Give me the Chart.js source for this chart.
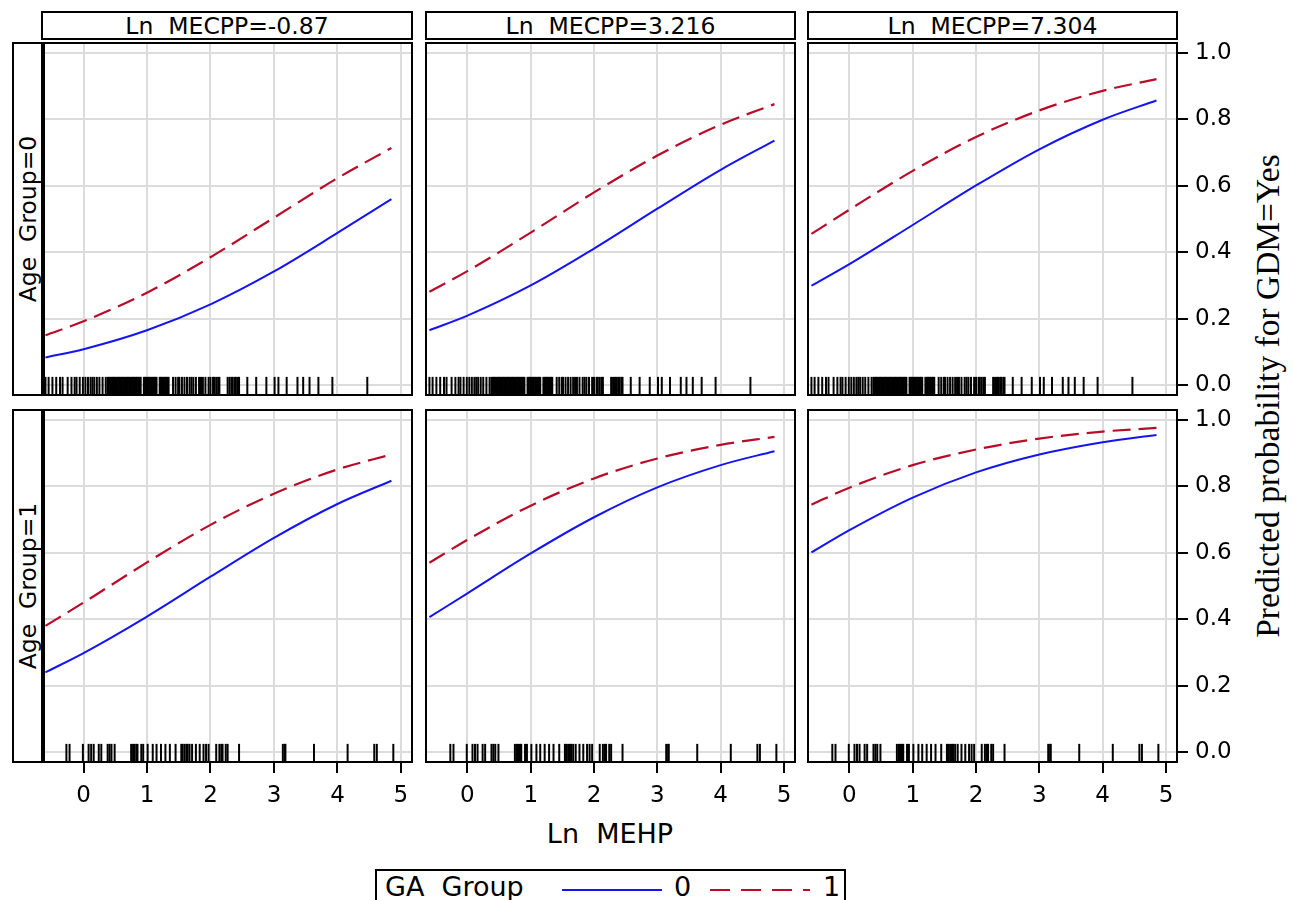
<!DOCTYPE html>
<html>
<head>
<meta charset="utf-8">
<script src="https://cdn.jsdelivr.net/npm/chart.js@4.4.0/dist/chart.umd.min.js"></script>
<style>
  body { margin: 0; width: 1294px; height: 900px; background: #fff; position: relative; overflow: hidden;
         font-family: "DejaVu Sans", sans-serif; color: #000; }
  .box { position: absolute; border: 2px solid #000; box-sizing: border-box; }
  .head { display: flex; align-items: center; justify-content: center; font-size: 23.5px; white-space: pre; }
  .strip span { position: absolute; left: 50%; top: 50%; transform: translate(-50%, -50%) rotate(-90deg);
                font-size: 23.5px; white-space: pre; }
  .pane { position: absolute; }
  #xtitle { position: absolute; left: 460px; width: 300px; top: 818px; text-align: center; font-size: 27px; white-space: pre; }
  #ytitle { position: absolute; left: 1268px; top: 396px; transform: translate(-50%, -50%) rotate(-90deg);
            font-family: "Liberation Serif", serif; font-size: 33.5px; white-space: pre; }
  #legend { position: absolute; left: 375px; top: 869px; width: 471px; height: 40px; border: 2px solid #000;
            box-sizing: border-box; font-size: 27px; white-space: pre; }
  #legend span, #legend svg { position: absolute; }
</style>
</head>
<body>
<script>
// panel labels
const colTitles = ['Ln  MECPP=-0.87', 'Ln  MECPP=3.216', 'Ln  MECPP=7.304'];
const rowTitles = ['Age  Group=0', 'Age  Group=1'];

// x positions where the curves were read (Ln MEHP)
const mehp = [-0.6, 0, 1, 2, 3, 4, 4.85];

// predicted probability, Age Group=0 row
const a0c1ga0 = [0.083, 0.108, 0.165, 0.243, 0.342, 0.458, 0.560];
const a0c1ga1 = [0.150, 0.192, 0.278, 0.385, 0.504, 0.623, 0.714];
const a0c2ga0 = [0.165, 0.209, 0.300, 0.411, 0.531, 0.648, 0.736];
const a0c2ga1 = [0.281, 0.343, 0.459, 0.580, 0.691, 0.784, 0.846];
const a0c3ga0 = [0.299, 0.364, 0.482, 0.601, 0.710, 0.799, 0.857];
const a0c3ga1 = [0.455, 0.528, 0.645, 0.747, 0.827, 0.886, 0.921];
// predicted probability, Age Group=1 row
const a1c1ga0 = [0.240, 0.298, 0.408, 0.528, 0.645, 0.747, 0.817];
const a1c1ga1 = [0.380, 0.450, 0.571, 0.684, 0.778, 0.851, 0.896];
const a1c2ga0 = [0.406, 0.478, 0.598, 0.707, 0.797, 0.864, 0.906];
const a1c2ga1 = [0.570, 0.639, 0.742, 0.824, 0.884, 0.925, 0.949];
const a1c3ga0 = [0.601, 0.668, 0.766, 0.842, 0.896, 0.933, 0.955];
const a1c3ga1 = [0.745, 0.796, 0.864, 0.911, 0.944, 0.965, 0.976];

// observed Ln MEHP values (rug)
const rugAge0 = [-0.60, -0.55, -0.49, -0.43, -0.37, -0.33, -0.25, -0.19, -0.14, -0.11, -0.06, -0.01, 0.03, 0.07,
  0.11, 0.14, 0.17, 0.21, 0.25, 0.30, 0.35, 0.38, 0.40, 0.42, 0.44, 0.46, 0.48, 0.50, 0.52, 0.54, 0.56, 0.58,
  0.60, 0.62, 0.64, 0.66, 0.68, 0.70, 0.72, 0.74, 0.76, 0.78, 0.80, 0.82, 0.84, 0.86, 0.88, 0.90, 0.95, 0.97,
  0.99, 1.01, 1.03, 1.05, 1.07, 1.09, 1.11, 1.13, 1.15, 1.20, 1.22, 1.24, 1.26, 1.28, 1.30, 1.32, 1.34, 1.41,
  1.45, 1.49, 1.51, 1.55, 1.59, 1.63, 1.67, 1.70, 1.73, 1.77, 1.82, 1.85, 1.88, 1.92, 1.97, 2.00, 2.04, 2.06,
  2.09, 2.12, 2.14, 2.27, 2.30, 2.33, 2.35, 2.38, 2.40, 2.43, 2.45, 2.58, 2.72, 2.88, 3.01, 3.07, 3.20, 3.37,
  3.46, 3.56, 3.70, 3.92, 4.47];
const rugAge1 = [-0.27, -0.22, -0.01, 0.08, 0.12, 0.16, 0.24, 0.28, 0.38, 0.41, 0.44, 0.49, 0.75, 0.78, 0.80,
  0.83, 0.85, 0.91, 0.94, 1.01, 1.09, 1.15, 1.22, 1.29, 1.36, 1.45, 1.54, 1.56, 1.59, 1.62, 1.64, 1.67, 1.71,
  1.77, 1.83, 1.89, 1.93, 1.97, 2.09, 2.14, 2.17, 2.19, 2.24, 2.27, 2.45, 3.14, 3.17, 3.18, 3.63, 4.16, 4.58,
  4.62, 4.88];

// ticks
const xTicks = [0, 1, 2, 3, 4, 5];
const yTicks = [0, 0.2, 0.4, 0.6, 0.8, 1.0];

const panels = [
  [[a0c1ga0, a0c1ga1], [a0c2ga0, a0c2ga1], [a0c3ga0, a0c3ga1]],
  [[a1c1ga0, a1c1ga1], [a1c2ga0, a1c2ga1], [a1c3ga0, a1c3ga1]]
];
const rugs = [rugAge0, rugAge1];

// layout
const colLeft = [41, 425, 807], colW = [372, 371, 371];
const rowTop = [42, 409], rowH = 354;
const BLUE = '#1414f5', RED = '#b80c28', FONT = '"DejaVu Sans", sans-serif';

const frame = {
  id: 'frame',
  afterDraw(chart) {
    const a = chart.chartArea, c = chart.ctx;
    c.save();
    c.strokeStyle = '#000';
    c.lineWidth = 2;
    c.strokeRect(a.left + 1, a.top + 1, a.right - a.left - 2, a.bottom - a.top - 2);
    if (chart.options.thickLeft) { c.fillStyle = '#000'; c.fillRect(a.left, a.top, 4, a.bottom - a.top); }
    c.restore();
  }
};

function add(html) { document.body.insertAdjacentHTML('beforeend', html); }

colTitles.forEach((t, c) => {
  add(`<div class="box head" style="left:${colLeft[c]}px;top:11px;width:${colW[c]}px;height:29px">${t}</div>`);
});
rowTitles.forEach((t, r) => {
  add(`<div class="box strip" style="left:12px;top:${rowTop[r]}px;width:31px;height:${rowH}px"><span>${t}</span></div>`);
});

function noPad(s) { s.paddingTop = 0; s.paddingBottom = 0; s.paddingLeft = 0; s.paddingRight = 0; }

function makePanel(r, c) {
  const showX = r === 1, showY = c === 2;
  const w = colW[c] + (showY ? 70 : 0), h = rowH + (showX ? 45 : 0);
  const id = 'p' + r + c;
  add(`<div class="pane" style="left:${colLeft[c]}px;top:${rowTop[r]}px;width:${w}px;height:${h}px"><canvas id="${id}" width="${w}" height="${h}"></canvas></div>`);
  const [ga0, ga1] = panels[r][c];
  new Chart(document.getElementById(id), {
    type: 'line',
    data: {
      datasets: [
        { data: mehp.map((x, i) => ({ x, y: ga0[i] })), borderColor: BLUE, borderWidth: 2,
          pointRadius: 0, cubicInterpolationMode: 'monotone' },
        { data: mehp.map((x, i) => ({ x, y: ga1[i] })), borderColor: RED, borderWidth: 2.2,
          borderDash: [18, 8], pointRadius: 0, cubicInterpolationMode: 'monotone' },
        { type: 'scatter', data: rugs[r].map(x => ({ x, y: -0.004 })), pointStyle: 'line', rotation: 90,
          pointRadius: 9.5, borderColor: '#000', borderWidth: 2 }
      ]
    },
    options: {
      responsive: false, animation: false, events: [], thickLeft: c === 0,
      layout: { padding: 0, autoPadding: false },
      plugins: { legend: { display: false }, tooltip: { enabled: false } },
      scales: {
        x: {
          type: 'linear', min: -0.67, max: 5.19,
          afterBuildTicks: s => { s.ticks = xTicks.map(v => ({ value: v })); },
          afterFit: s => { s.height = showX ? 45 : 0; noPad(s); },
          grid: { color: '#dcdcdc', lineWidth: 2, drawTicks: showX, tickLength: 10, tickColor: '#000', tickWidth: 2 },
          border: { display: false },
          ticks: { display: showX, color: '#000', padding: 9, maxRotation: 0, font: { size: 23, family: FONT } }
        },
        y: {
          position: 'right', min: -0.033, max: 1.033,
          afterBuildTicks: s => { s.ticks = yTicks.map(v => ({ value: v })); },
          afterFit: s => { s.width = showY ? 70 : 0; noPad(s); },
          grid: { color: '#dcdcdc', lineWidth: 2, drawTicks: showY, tickLength: 10, tickColor: '#000', tickWidth: 2 },
          border: { display: false },
          ticks: { display: showY, color: '#000', padding: 7, font: { size: 23, family: FONT },
                   callback: v => v.toFixed(1) }
        }
      }
    },
    plugins: [frame]
  });
}

for (let r = 0; r < 2; r++) for (let c = 0; c < 3; c++) makePanel(r, c);

add('<div id="xtitle">Ln  MEHP</div>');
add('<div id="ytitle">Predicted probability for GDM=Yes</div>');
add(`<div id="legend">
  <span style="left:8px;top:0px">GA  Group</span>
  <svg style="left:185px;top:17px" width="100" height="4"><line x1="0" y1="2" x2="100" y2="2" stroke="${BLUE}" stroke-width="2"/></svg>
  <span style="left:297px;top:0px">0</span>
  <svg style="left:333px;top:17px" width="100" height="4"><line x1="0" y1="2" x2="100" y2="2" stroke="${RED}" stroke-width="2.2" stroke-dasharray="20 11"/></svg>
  <span style="left:446px;top:0px">1</span>
</div>`);
</script>
</body>
</html>
